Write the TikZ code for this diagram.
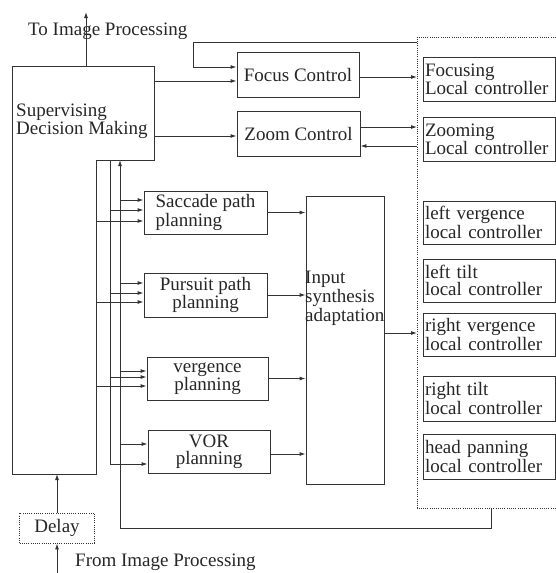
\documentclass[tikz,border=0pt]{standalone}
\usepackage{fontspec}
\setmainfont{Liberation Serif}
\usetikzlibrary{arrows.meta,positioning,calc}

\begin{document}
\begin{tikzpicture}[x=1pt, y=-1pt,
  font=\fontsize{19}{17}\selectfont, text=black!85,
  line/.style={draw=black!80, line width=0.9pt},
  arr/.style={line, -{Latex[length=6pt,width=4pt]}},
  dotline/.style={draw=black!80, line width=0.9pt, dash pattern=on 1pt off 1.2pt},
  box/.style={line, rectangle, inner sep=1pt, align=center},
  ctrl/.style={line, rectangle, inner xsep=2pt, inner ysep=0pt, text width=128pt,
               align=left, minimum height=44pt}]

\useasboundingbox (0,0) rectangle (556,573);

% Supervising block (L-shaped outline)
\coordinate (supNW) at (12,66);
\coordinate (supNE) at (154,66);
\coordinate (supE) at (154,160);
\coordinate (busA) at (96,160);    % right edge of the lower part
\coordinate (supS) at (96,474);
\coordinate (supSW) at (12,474);
\draw[line] (supNW) -- (supNE) -- (supE) -- (busA) -- (supS) -- (supSW) -- cycle;
\node[anchor=west, align=left, inner sep=0, font=\fontsize{19}{18}\selectfont] (sup) at (16,121) {Supervising\\Decision Making};

% Control boxes
\node[box, minimum width=122pt, minimum height=45pt] (focus) at (298,74.5) {Focus Control};
\node[box, minimum width=123pt, minimum height=45pt] (zoomc) at (298.5,133.5) {Zoom Control};

% Planning boxes
\node[box, align=left, minimum width=123pt, minimum height=43pt] (sacc) at (205.5,212.5) {Saccade path\\planning};
\node[box, minimum width=123pt, minimum height=44pt] (purs) at (205.5,295) {Pursuit path\\planning};
\node[box, minimum width=121pt, minimum height=43pt] (verg) at (207.5,378.5) {vergence\\planning};
\node[box, minimum width=122pt, minimum height=43pt] (vor) at (209,451.5) {VOR\\planning};

% Input synthesis
\node[line, rectangle, minimum width=78pt, minimum height=288pt] (input) at (345,340) {};
\node[anchor=west, align=left, inner sep=0, font=\fontsize{19}{19}\selectfont] (inputlbl) at (305,298) {Input\\synthesis\\adaptation};

% Local controllers (dotted region)
\coordinate (dotNW) at (417,37);
\coordinate (dotSW) at (417,508);
\draw[dotline] (556,37) -- (dotNW) -- (dotSW) -- (556,508);
\node[ctrl] (focl) at (489,79) {Focusing\\Local controller};
\node[ctrl] (zooml) at (489,139) {Zooming\\Local controller};
\node[ctrl, minimum height=43pt] (lverg) at (489,222.5) {left vergence\\local controller};
\node[ctrl, minimum height=43pt] (ltilt) at (489,280.5) {left tilt\\local controller};
\node[ctrl, minimum height=43pt] (rverg) at (489,334.5) {right vergence\\local controller};
\node[ctrl, minimum height=45pt] (rtilt) at (489,398.5) {right tilt\\local controller};
\node[ctrl, minimum height=45pt] (headp) at (489,456.5) {head panning\\local controller};

% Delay and image processing
\node[box, dotline, minimum width=75pt, minimum height=30pt] (delay) at (57,528) {Delay};
\coordinate (toIP) at (86,12);
\coordinate (fromIP) at (57,573);
\node[anchor=west, inner sep=0] (tolbl) at (28,31) {To Image Processing};
\node[anchor=west, inner sep=0] (fromlbl) at (75,562) {From Image Processing};
\draw[arr] (toIP |- supNW) -- (toIP);
\draw[arr] (fromIP) -- (delay.south);
\draw[arr] (delay.north) -- (delay.north |- supS);

% Supervisor to focus / zoom control
\draw[arr] (supNE |- 0,81) -- (focus.west |- 0,81);
\draw[arr] (supNE |- 0,136) -- (zoomc.west |- 0,136);

% Focus / zoom control to local controllers
\coordinate (fbTop) at (417,42);
\draw[arr] (fbTop) -- (193,42) |- (focus.west |- 0,67);
\draw[arr] (focus.east |- 0,77) -- (dotNW |- 0,77);
\draw[arr] (zoomc.east |- 0,127) -- (dotNW |- 0,127);
\draw[arr] (dotNW |- 0,146) -- (zoomc.east |- 0,146);

% Bus lines from the supervisor
\coordinate (busB) at (110,160);
\coordinate (busC) at (120,160);
\coordinate (fbC) at (120,528);
\coordinate (fbR) at (491,528);
\coordinate (dotS) at (491,508);
\draw[arr] (dotS) -- (fbR) -- (fbC) -- (busC);
\draw[arr] (busB) |- (vor.west |- 0,464);

% Branches to the planning boxes
\draw[arr] (busC |- 0,200) -- (sacc.west |- 0,200);
\draw[arr] (busB |- 0,210) -- (sacc.west |- 0,210);
\draw[arr] (busA |- 0,221) -- (sacc.west |- 0,221);
\draw[arr] (busC |- 0,283) -- (purs.west |- 0,283);
\draw[arr] (busB |- 0,293) -- (purs.west |- 0,293);
\draw[arr] (busA |- 0,302) -- (purs.west |- 0,302);
\draw[arr] (busC |- 0,371) -- (verg.west |- 0,371);
\draw[arr] (busB |- 0,377) -- (verg.west |- 0,377);
\draw[arr] (busA |- 0,386) -- (verg.west |- 0,386);
\draw[arr] (busC |- 0,444) -- (vor.west |- 0,444);

% Planning to input synthesis
\draw[arr] (sacc.east) -- (sacc.east -| input.west);
\draw[arr] (purs.east) -- (purs.east -| input.west);
\draw[arr] (verg.east) -- (verg.east -| input.west);
\draw[arr] (vor.east |- 0,454) -- (input.west |- 0,454);
\draw[arr] (input.east |- 0,333) -- (dotNW |- 0,333);

\end{tikzpicture}
\end{document}
